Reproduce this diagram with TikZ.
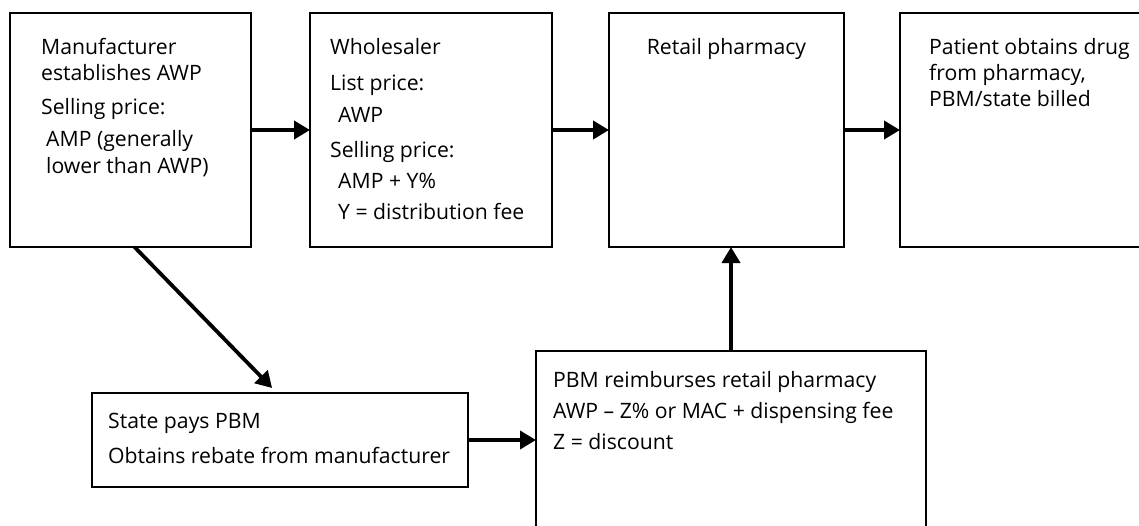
\documentclass[tikz,border=0pt]{standalone}
\usepackage{fontspec}
\setmainfont{Open Sans}
\usetikzlibrary{arrows.meta}
\begin{document}
\begin{tikzpicture}[x=1pt,y=-1pt,
  box/.style={draw, line width=1.2pt, inner sep=0pt, outer sep=0pt, anchor=north west},
  txt/.style={anchor=base west, inner sep=0pt, font=\fontsize{21.2}{25}\selectfont},
  flow/.style={line width=3.8pt, -{Triangle[length=16pt,width=18pt]}}]
\useasboundingbox (0,0) rectangle (1139,525);
\clip (0,0) rectangle (1139,525);
% boxes
\node[box, minimum width=241pt, minimum height=234pt] (man) at (10,13) {};
\node[box, minimum width=242pt, minimum height=234pt] (who) at (310,13) {};
\node[box, minimum width=235pt, minimum height=234pt] (ret) at (609,13) {};
\node[box, minimum width=260pt, minimum height=234pt] (pat) at (900,13) {};
\node[box, minimum width=376pt, minimum height=94pt] (sta) at (92,393) {};
\node[box, minimum width=390pt, minimum height=200pt] (pbm) at (536,351) {};
% texts
\node[txt] (m1) at (41,54) {Manufacturer};
\node[txt] (m2) at (41,80) {establishes AWP};
\node[txt] (m3) at (41,114) {Selling price:};
\node[txt] (m4) at (46,146) {AMP (generally};
\node[txt] (m5) at (46,173) {lower than AWP)};
\node[txt] (w1) at (330,54) {Wholesaler};
\node[txt] (w2) at (330,90) {List price:};
\node[txt] (w3) at (338,122) {AWP};
\node[txt] (w4) at (330,157) {Selling price:};
\node[txt] (w5) at (338,188) {AMP + Y\%};
\node[txt] (w6) at (338,219) {Y = distribution fee};
\node[txt, anchor=base] (r1) at (726.5,54) {Retail pharmacy};
\node[txt] (p1) at (929,54) {Patient obtains drug};
\node[txt] (p2) at (929,80) {from pharmacy,};
\node[txt] (p3) at (929,106) {PBM/state billed};
\node[txt] (s1) at (108,428) {State pays PBM};
\node[txt] (s2) at (108,463) {Obtains rebate from manufacturer};
\node[txt] (b1) at (553,387) {PBM reimburses retail pharmacy};
\node[txt] (b2) at (553,418) {AWP – Z\% or MAC + dispensing fee};
\node[txt] (b3) at (553,449) {Z = discount};
% connectors
\draw[flow] (man.east) -- (who.west);
\draw[flow] (who.east) -- (ret.west);
\draw[flow] (ret.east |- man.east) -- (pat.west |- man.east);
\draw[flow, shorten >=7pt] ([xshift=4pt]man.south) -- ([xshift=-3pt]sta.north);
\draw[flow] (sta.east) -- (sta.east -| pbm.west);
\draw[flow] ([yshift=-1pt]pbm.north) -- (pbm.north |- ret.south);
\end{tikzpicture}
\end{document}
